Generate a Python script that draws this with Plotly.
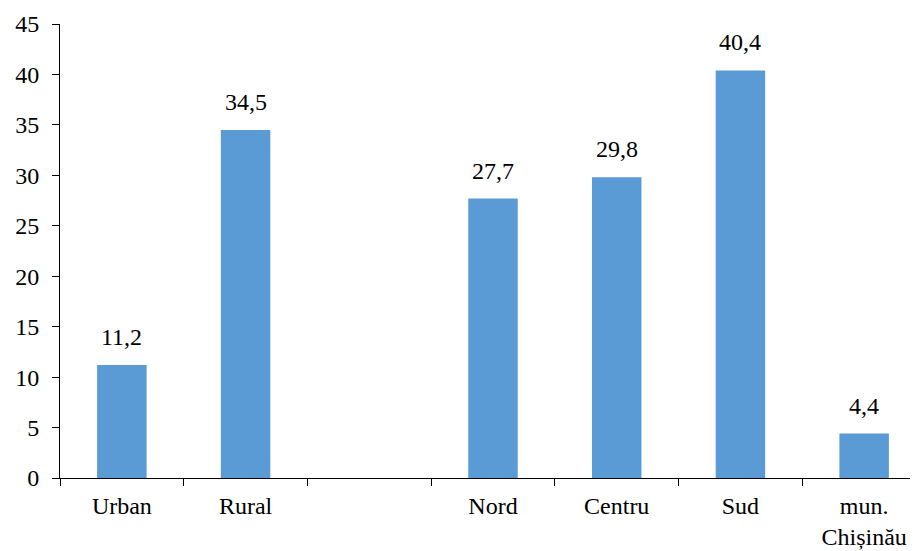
import plotly.graph_objects as go

categories = ["Urban", "Rural", " ", "Nord", "Centru", "Sud", "mun.<br>Chișinău"]
values = [11.2, 34.5, None, 27.7, 29.8, 40.4, 4.4]
y_ticks = [0, 5, 10, 15, 20, 25, 30, 35, 40, 45]

font_family = "Liberation Serif"
bar_color = "#5B9BD5"
fs = 24

fig = go.Figure()
fig.add_trace(go.Bar(
    x=categories,
    y=values,
    width=0.4,
    marker=dict(color=bar_color, line=dict(width=0)),
    hoverinfo="skip",
))

for c, v in zip(categories, values):
    if v is None:
        continue
    fig.add_annotation(
        x=c, y=v, text=f"{v:.1f}".replace(".", ","),
        showarrow=False, yanchor="bottom", yshift=13,
        font=dict(family=font_family, size=fs, color="black"),
    )

fig.update_layout(
    width=918, height=551,
    margin=dict(l=52, r=0, t=16, b=81),
    plot_bgcolor="white", paper_bgcolor="white",
    showlegend=False,
    font=dict(family=font_family, size=fs, color="black"),
)
fig.update_xaxes(
    type="category",
    range=[-0.5, 6.5],
    showline=True, linecolor="black", linewidth=1,
    ticks="outside", tickson="boundaries", ticklen=7, tickcolor="black",
    showgrid=False, zeroline=False,
    ticklabelstandoff=6,
    tickfont=dict(family=font_family, size=fs, color="black"),
)
fig.update_yaxes(
    range=[0, 45],
    tickvals=y_ticks,
    showline=True, linecolor="black", linewidth=1,
    ticks="outside", ticklen=7, tickcolor="black",
    showgrid=False, zeroline=False,
    ticklabelstandoff=8,
    tickfont=dict(family=font_family, size=fs, color="black"),
)

fig.write_html("out.html")
